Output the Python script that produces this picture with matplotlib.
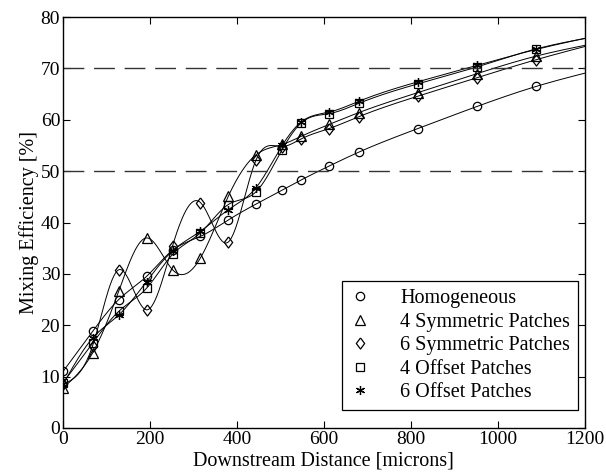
import matplotlib
matplotlib.use('Agg')
import matplotlib.pyplot as plt
import numpy as np

plt.rcParams['font.family'] = ['Liberation Serif', 'DejaVu Serif']

# downstream positions of the sample planes (microns)
dist = [0, 68, 128, 192, 252, 316, 380, 444, 504, 548, 612, 680, 816, 952, 1088, 1224]

homog = [11.0, 18.8, 25.0, 29.5, 34.6, 37.3, 40.5, 43.6, 46.3, 48.3, 51.0, 53.7, 58.3, 62.6, 66.5, 69.6]
sym4 = [7.8, 14.6, 26.6, 37.0, 30.8, 33.1, 45.1, 53.2, 55.2, 56.8, 59.1, 61.4, 65.3, 69.0, 72.4, 74.9]
sym6 = [8.5, 16.0, 30.8, 23.0, 35.5, 43.9, 36.2, 52.2, 54.8, 56.3, 58.3, 60.6, 64.6, 68.2, 71.7, 74.8]
off4 = [8.8, 16.5, 22.7, 27.2, 33.8, 38.0, 43.5, 46.0, 54.2, 59.4, 61.2, 63.2, 67.0, 70.3, 73.8, 76.2]
off6 = [8.5, 17.5, 22.0, 28.5, 34.5, 38.3, 42.5, 46.8, 55.0, 59.6, 61.5, 63.6, 67.4, 70.6, 73.7, 76.3]

# slightly tall diamond, like the matlab one
diamond = [(0, 1), (0.75, 0), (0, -1), (-0.75, 0), (0, 1)]

series = [
    ('Homogeneous', homog, 'o'),
    ('4 Symmetric Patches', sym4, '^'),
    ('6 Symmetric Patches', sym6, diamond),
    ('4 Offset Patches', off4, 's'),
    ('6 Offset Patches', off6, (6, 2, 0)),
]


def spline_curve(x, y, n=600):
    # natural cubic spline through the points, only for drawing the line
    x = np.asarray(x, float)
    y = np.asarray(y, float)
    k = len(x)
    h = np.diff(x)
    A = np.zeros((k, k))
    b = np.zeros(k)
    A[0, 0] = 1
    A[-1, -1] = 1
    for i in range(1, k - 1):
        A[i, i - 1] = h[i - 1]
        A[i, i] = 2 * (h[i - 1] + h[i])
        A[i, i + 1] = h[i]
        b[i] = 3 * ((y[i + 1] - y[i]) / h[i] - (y[i] - y[i - 1]) / h[i - 1])
    c = np.linalg.solve(A, b)
    xs = np.linspace(x[0], x[-1], n)
    idx = np.clip(np.searchsorted(x, xs) - 1, 0, k - 2)
    dx = xs - x[idx]
    bb = (y[idx + 1] - y[idx]) / h[idx] - h[idx] * (2 * c[idx] + c[idx + 1]) / 3
    dd = (c[idx + 1] - c[idx]) / (3 * h[idx])
    ys = y[idx] + bb * dx + c[idx] * dx ** 2 + dd * dx ** 3
    return xs, ys


fig = plt.figure(figsize=(6.06, 4.75), dpi=100)
ax = fig.add_axes([0.104, 0.099, 0.861, 0.865])

for name, vals, mk in series:
    xs, ys = spline_curve(dist, vals)
    ax.plot(xs, ys, color='black', linewidth=0.7)
    if mk is diamond:
        ms = 8.0
    elif mk == 'o' or mk == 's':
        ms = 6.0
    else:
        ms = 6.5
    ax.plot(dist, vals, linestyle='none', marker=mk, markersize=ms,
            markerfacecolor='none', markeredgecolor='black',
            markeredgewidth=0.9, label=name)

for level in [50, 70]:
    ax.axhline(level, color='#333333', linewidth=1.0, dashes=(15, 7))

ax.set_xlim(0, 1200)
ax.set_ylim(0, 80)
ax.set_xticks(np.arange(0, 1201, 200))
ax.set_yticks(np.arange(0, 81, 10))
ax.tick_params(direction='in', top=True, right=True, labelsize=14, length=5, pad=2)
for sp in ax.spines.values():
    sp.set_linewidth(1.0)

ax.set_xlabel('Downstream Distance [microns]', fontsize=14.5, labelpad=3)
ax.set_ylabel('Mixing Efficiency [%]', fontsize=14.5, labelpad=1)

leg = ax.legend(loc='lower right', fontsize=14.5, frameon=True, fancybox=False,
                edgecolor='black', framealpha=1, handlelength=1.0,
                borderpad=0.4, labelspacing=0.22, handletextpad=1.5,
                borderaxespad=0, bbox_to_anchor=(0.987, 0.043))
leg.get_frame().set_linewidth(0.9)

fig.savefig('out.png', dpi=100)
